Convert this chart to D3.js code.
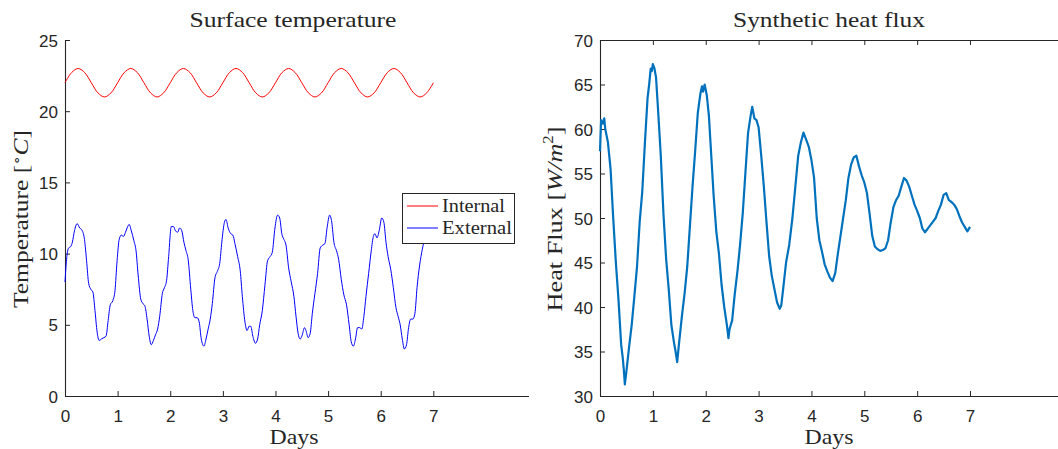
<!DOCTYPE html>
<html><head><meta charset="utf-8">
<script src="https://cdn.jsdelivr.net/npm/d3@7"></script>
<style>
body{margin:0;background:#fff;}
svg{display:block;}
text{fill:#262626;}
</style></head>
<body>
<svg id="c" width="1058" height="449"></svg>
<script>
// ---------- DATA ----------
const dayTicks = [0,1,2,3,4,5,6,7];
const tempTicks = [0,5,10,15,20,25];
const fluxTicks = [30,35,40,45,50,55,60,65,70];

const intDays = [0,0.125,0.25,0.375,0.5,0.625,0.75,0.875,1,1.125,1.25,1.375,1.5,1.625,1.75,1.875,2,2.125,2.25,2.375,2.5,2.625,2.75,2.875,3,3.125,3.25,3.375,3.5,3.625,3.75,3.875,4,4.125,4.25,4.375,4.5,4.625,4.75,4.875,5,5.125,5.25,5.375,5.5,5.625,5.75,5.875,6,6.125,6.25,6.375,6.5,6.625,6.75,6.875,7];
const intTemp = [22,22.71,23,22.71,22,21.29,21,21.29,22,22.71,23,22.71,22,21.29,21,21.29,22,22.71,23,22.71,22,21.29,21,21.29,22,22.71,23,22.71,22,21.29,21,21.29,22,22.71,23,22.71,22,21.29,21,21.29,22,22.71,23,22.71,22,21.29,21,21.29,22,22.71,23,22.71,22,21.29,21,21.29,22];

const extDays = [0.00,0.03,0.07,0.11,0.14,0.18,0.23,0.28,0.33,0.37,0.41,0.45,0.49,0.53,0.57,0.61,0.65,0.69,0.74,0.78,0.82,0.86,0.91,0.95,0.99,1.03,1.07,1.11,1.15,1.18,1.22,1.26,1.31,1.35,1.39,1.44,1.48,1.52,1.56,1.60,1.64,1.68,1.72,1.76,1.80,1.85,1.89,1.93,1.97,2.02,2.06,2.10,2.14,2.18,2.22,2.26,2.30,2.34,2.39,2.43,2.47,2.51,2.55,2.59,2.64,2.68,2.72,2.76,2.80,2.85,2.90,2.94,2.98,3.03,3.06,3.10,3.15,3.19,3.23,3.28,3.33,3.37,3.42,3.46,3.50,3.53,3.57,3.62,3.66,3.70,3.75,3.80,3.85,3.90,3.94,3.99,4.04,4.08,4.12,4.16,4.20,4.25,4.30,4.35,4.39,4.43,4.47,4.51,4.55,4.58,4.62,4.66,4.70,4.75,4.80,4.85,4.90,4.94,4.98,5.03,5.07,5.11,5.16,5.20,5.25,5.30,5.35,5.40,5.44,5.48,5.52,5.56,5.60,5.64,5.68,5.72,5.77,5.82,5.86,5.89,5.93,5.97,6.02,6.06,6.10,6.14,6.19,6.24,6.29,6.33,6.37,6.41,6.45,6.49,6.53,6.57,6.61,6.65,6.69,6.74,6.79,6.85,6.92,7.00];
const extTemp = [8.0,9.6,10.4,10.5,10.8,11.6,12.1,11.8,11.6,11.0,9.5,7.9,7.5,7.3,6.0,4.5,3.9,4.0,4.1,4.2,5.3,6.4,6.7,7.4,9.5,11.0,11.3,11.2,11.5,11.8,12.05,11.6,10.9,10.2,8.5,6.8,6.5,6.3,5.4,4.2,3.6,3.9,4.3,4.7,5.6,7.2,7.6,8.1,9.8,11.9,11.9,11.6,11.5,11.8,11.6,10.8,10.2,9.6,7.5,6.0,5.5,5.5,5.2,4.0,3.5,4.0,4.7,5.4,6.5,8.3,8.8,9.3,10.8,12.2,12.4,11.8,11.4,11.3,10.7,9.8,8.8,7.0,5.2,4.6,4.9,4.9,4.2,3.7,4.0,5.0,6.0,7.8,9.5,9.8,10.1,11.8,12.7,12.5,11.4,11.0,10.6,9.0,8.0,7.0,5.6,4.4,4.0,4.3,4.8,4.6,4.1,4.4,5.8,7.2,8.6,10.4,10.6,10.7,11.8,12.7,12.2,10.8,10.2,9.6,8.2,7.1,6.4,5.0,3.8,3.5,4.0,4.8,4.8,4.7,5.6,7.0,8.6,10.2,11.2,11.4,11.1,11.6,12.5,12.2,10.8,9.8,8.9,7.6,6.2,5.6,5.0,4.0,3.3,3.6,4.8,5.4,5.4,5.8,7.6,9.2,10.3,11.2,11.8,12.0];

const fluxDays = [0.00,0.02,0.05,0.08,0.10,0.15,0.20,0.25,0.30,0.35,0.40,0.43,0.45,0.47,0.50,0.55,0.60,0.65,0.70,0.75,0.80,0.85,0.90,0.93,0.96,0.98,1.00,1.03,1.06,1.10,1.15,1.20,1.25,1.30,1.35,1.40,1.43,1.46,1.50,1.55,1.60,1.65,1.70,1.75,1.80,1.85,1.90,1.93,1.95,1.98,2.02,2.06,2.10,2.15,2.20,2.25,2.30,2.35,2.40,2.43,2.45,2.50,2.55,2.60,2.65,2.70,2.75,2.80,2.85,2.88,2.92,2.96,3.00,3.05,3.10,3.15,3.20,3.25,3.30,3.35,3.40,3.43,3.47,3.52,3.58,3.64,3.70,3.75,3.80,3.85,3.90,3.95,4.00,4.05,4.10,4.15,4.20,4.25,4.30,4.35,4.40,4.45,4.50,4.55,4.60,4.65,4.70,4.75,4.80,4.85,4.90,4.95,5.00,5.05,5.10,5.15,5.20,5.25,5.30,5.35,5.40,5.45,5.50,5.55,5.60,5.65,5.70,5.75,5.80,5.85,5.90,5.95,6.00,6.05,6.10,6.15,6.20,6.25,6.30,6.35,6.40,6.45,6.50,6.55,6.60,6.65,6.70,6.75,6.80,6.85,6.90,6.95,7.00];
const fluxVal = [57.5,61.0,60.6,61.2,60.0,58.5,55.5,50.0,45.0,40.8,35.8,34.3,33.0,31.3,32.8,35.5,38.0,41.2,44.5,49.5,53.0,58.5,63.5,65.0,66.8,66.5,67.3,66.8,65.8,62.0,57.0,50.5,45.5,42.0,38.0,36.0,35.0,33.8,36.2,39.0,41.5,44.5,49.0,53.5,57.5,61.8,64.0,64.8,64.2,65.0,63.8,61.5,57.5,52.5,48.5,46.0,42.5,40.0,38.0,36.5,37.5,38.5,41.5,44.0,47.0,50.5,55.0,59.5,61.5,62.5,61.2,61.0,60.2,57.0,53.5,49.5,45.7,43.5,42.0,40.5,39.8,40.2,42.3,45.0,47.0,50.0,53.8,57.0,58.5,59.6,58.8,58.0,56.5,54.5,50.0,47.5,46.2,44.8,44.0,43.3,42.9,43.8,46.0,48.0,50.0,52.0,54.5,56.0,56.8,57.0,55.8,54.8,54.0,52.8,50.5,48.0,46.8,46.5,46.3,46.4,46.6,47.5,49.5,51.2,52.0,52.5,53.5,54.5,54.2,53.5,52.5,51.5,50.8,50.0,48.8,48.4,48.8,49.2,49.6,50.0,50.8,51.5,52.6,52.8,52.0,51.8,51.5,51.0,50.2,49.5,49.0,48.5,49.0];

const legendLabels = ["Internal","External"];
const colors = {internal:"#ff0000", external:"#0000ff", flux:"#0072bd", axis:"#262626"};

// ---------- DRAW ----------
const svg = d3.select("#c");
const SERIF = "'Liberation Serif','Times New Roman',serif";
const SANS = "'Liberation Sans',Arial,Helvetica,sans-serif";

function panel(o){
  const g = svg.append("g");
  const x = d3.scaleLinear().domain([0, o.xmax]).range([o.left, o.right]);
  const y = d3.scaleLinear().domain(o.ydom).range([o.bottom, o.top]);
  const xa = g.append("g").attr("transform",`translate(0,${o.bottom})`)
    .call(d3.axisBottom(x).tickValues(dayTicks).tickSize(-5).tickPadding(0).tickFormat(d3.format("d")));
  xa.selectAll("text").attr("dy",null).attr("y",26);
  const ya = g.append("g").attr("transform",`translate(${o.left},0)`)
    .call(d3.axisLeft(y).tickValues(o.yticks).tickSize(-5).tickPadding(7));
  ya.selectAll("text").attr("dy","0.36em");
  let ta = null;
  if(o.topAxis){
    ta = g.append("g").attr("transform",`translate(0,${o.top})`)
      .call(d3.axisTop(x).tickValues(dayTicks).tickSize(-5).tickFormat(""));
  }
  g.selectAll(".domain").attr("stroke",colors.axis).attr("stroke-width",1.1);
  g.selectAll(".tick line").attr("stroke",colors.axis).attr("stroke-width",1);
  g.selectAll(".tick text").attr("font-family",SANS).attr("font-size","17px").attr("fill",colors.axis);
  xa.select(".domain").attr("d",`M${o.left},0.5H${o.right}`);
  ya.select(".domain").attr("d",`M0.5,${o.top}V${o.bottom}`);
  if(ta) ta.select(".domain").attr("d",`M${o.left},0.5H${o.right}`);
  return {g,x,y};
}

function fitText(sel, w){
  const n = sel.node(); const cur = n.getComputedTextLength();
  if(cur>0) sel.attr("textLength", w).attr("lengthAdjust","spacingAndGlyphs");
}

// Left panel
const L = panel({left:65,right:529,top:40,bottom:396,xmax:(529-65)/52.62,ydom:[0,25],yticks:tempTicks,topAxis:false});
const lineInt = d3.line().x((d,i)=>L.x(intDays[i])).y(d=>L.y(d)).curve(d3.curveCatmullRom);
const lineExt = d3.line().x((d,i)=>L.x(extDays[i])).y(d=>L.y(d)).curve(d3.curveMonotoneX);
L.g.append("path").attr("d",lineInt(intTemp)).attr("fill","none").attr("stroke",colors.internal).attr("stroke-width",1);
L.g.append("path").attr("d",lineExt(extTemp)).attr("fill","none").attr("stroke",colors.external).attr("stroke-width",1);

// legend
const lg = L.g.append("g");
lg.append("rect").attr("x",402.5).attr("y",193.5).attr("width",112).attr("height",50).attr("fill","#fff").attr("stroke",colors.axis).attr("stroke-width",1);
[colors.internal, colors.external].forEach((c,i)=>{
  const yy = 206 + i*22;
  lg.append("line").attr("x1",407).attr("x2",438).attr("y1",yy).attr("y2",yy).attr("stroke",c).attr("stroke-width",1);
  const t = lg.append("text").attr("x",442).attr("y",yy+6).attr("font-family",SERIF).attr("font-size","18.5px").text(legendLabels[i]);
  fitText(t, i===0?63:70);
});

// Right panel
const R = panel({left:600,right:1058,top:40,bottom:396,xmax:(1058-600)/52.86,ydom:[30,70],yticks:fluxTicks,topAxis:true});
const lineFlux = d3.line().x((d,i)=>R.x(fluxDays[i])).y(d=>R.y(d)).curve(d3.curveLinear);
R.g.append("path").attr("d",lineFlux(fluxVal)).attr("fill","none").attr("stroke",colors.flux).attr("stroke-width",2.2).attr("stroke-linejoin","round");

// Titles & labels
function label(x,y,txt,w,rot){
  const t = svg.append("text").attr("font-family",SERIF).attr("font-size","22px").attr("text-anchor","middle")
    .attr("transform",`translate(${x},${y})`+(rot?" rotate(-90)":""));
  if(typeof txt==="string") t.text(txt); else txt(t);
  if(w) fitText(t,w);
  return t;
}
label(293,27,"Surface temperature",207);
label(829,27,"Synthetic heat flux",192);
label(294,444,"Days",49);
label(829,444,"Days",49);
label(28,219,t=>{
  t.append("tspan").text("Temperature [");
  t.append("tspan").attr("font-size","13px").attr("dy","-8").text("∘");
  t.append("tspan").attr("dy","8").attr("font-style","italic").text("C");
  t.append("tspan").text("]");
},178,true);
label(562,219,t=>{
  t.append("tspan").text("Heat Flux [");
  t.append("tspan").attr("font-style","italic").text("W/m");
  t.append("tspan").attr("font-size","14px").attr("dy","-9").text("2");
  t.append("tspan").attr("dy","9").text("]");
},185,true);
</script>
</body></html>
